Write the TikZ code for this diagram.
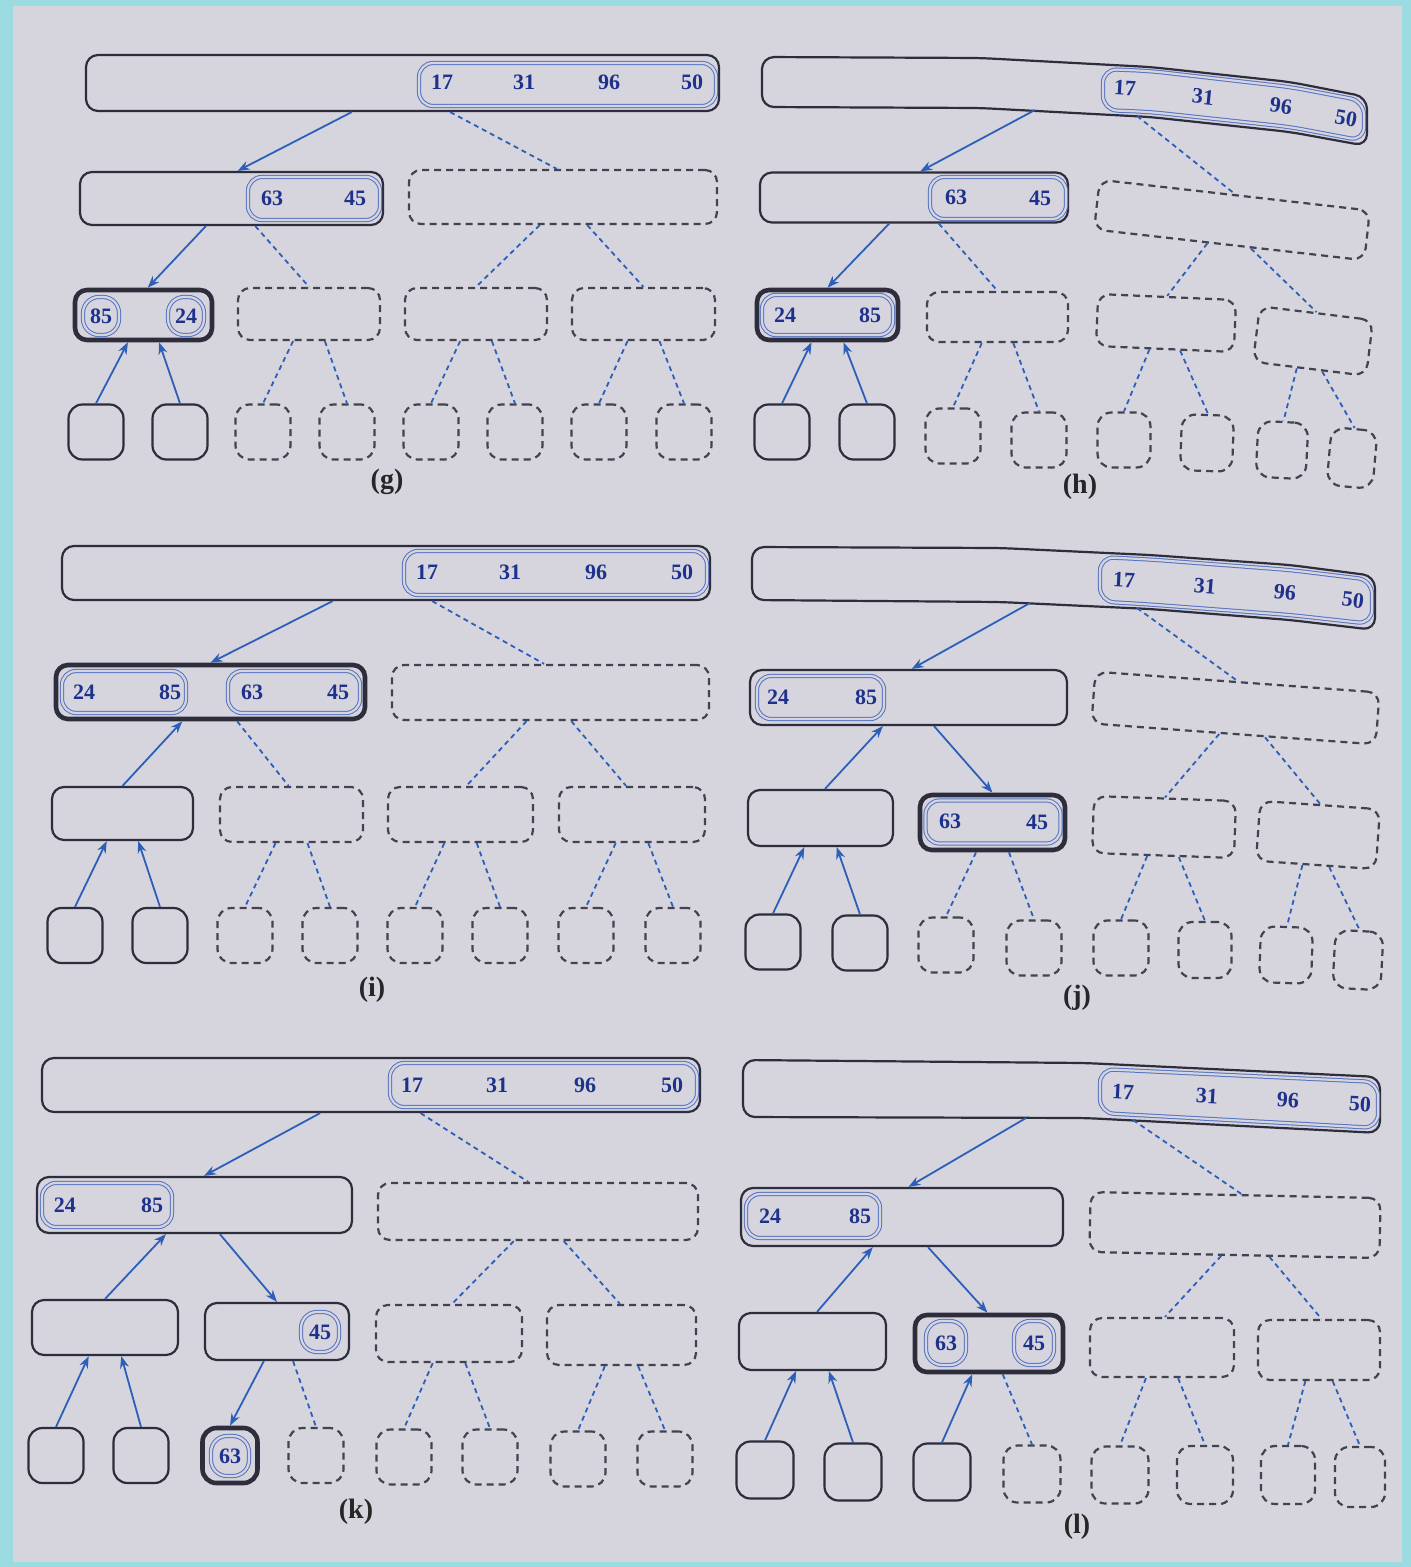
\documentclass[tikz,border=0pt]{standalone}
\usepackage{fontspec}
\setmainfont{Liberation Serif}
\usetikzlibrary{calc,arrows.meta}
\definecolor{bgc}{RGB}{214,213,222}
\definecolor{cyanc}{RGB}{156,219,224}
\definecolor{linec}{RGB}{45,45,60}
\definecolor{edgec}{RGB}{45,95,185}
\definecolor{innerc}{RGB}{85,115,195}
\definecolor{numc}{RGB}{30,50,140}
\newcommand{\tedge}[5]{\draw[#1] ($(#2.south west)!#3!(#2.south east)$) -- ($(#4.north west)!#5!(#4.north east)$);}
\newcommand{\cedge}[4]{\draw[#1] (#2) -- ($(#3.north west)!#4!(#3.north east)$);}
\begin{document}
\begin{tikzpicture}[x=0.5pt,y=-0.5pt,
  sz/.style 2 args={minimum width=#1*0.5pt, minimum height=#2*0.5pt},
  basebox/.style={rectangle, inner sep=0pt, rounded corners=6pt},
  sbox/.style={basebox, draw=linec, line width=1.1pt},
  tbox/.style={basebox, draw=linec, line width=2.3pt},
  dbox/.style={basebox, draw=linec!90, line width=1.1pt, dash pattern=on 3.5pt off 2.5pt},
  leaf/.style={sz={55}{55}, rounded corners=7pt},
  ibox/.style={rectangle, inner sep=0pt, rounded corners=7pt, draw=innerc, line width=0.5pt, double=bgc, double distance=1.1pt},
  sline/.style={draw=linec, line width=1.1pt, rounded corners=6pt},
  ipath/.style={draw=innerc, line width=0.5pt, double=bgc, double distance=1.1pt, rounded corners=7pt},
  num/.style={inner sep=0pt, text=numc, font=\bfseries\fontsize{11}{11}\selectfont},
  lab/.style={inner sep=0pt, text=black!85, font=\bfseries\fontsize{14}{14}\selectfont},
  arrdown/.style={draw=edgec, line width=0.9pt, -{Stealth[length=6pt,width=4.5pt]}},
  arrup/.style={draw=edgec, line width=0.9pt, {Stealth[length=6pt,width=4.5pt]}-},
  dedge/.style={draw=edgec, line width=0.9pt, dash pattern=on 2.5pt off 2pt},
]
\useasboundingbox (0,0) rectangle (1411,1567);
\fill[cyanc] (0,0) rectangle (1411,1567);
\fill[bgc] (13,6) rectangle (1402,1562);

%%%%%%%%%%%%%%%% (g)
\node[sbox, sz={633}{56}] (gR) at (402.5,83) {};
\node[ibox, sz={297}{43}] (gRi) at (567.5,84.5) {};
\node[num] (g17) at (442,82) {17};
\node[num] (g31) at (524,82) {31};
\node[num] (g96) at (609,82) {96};
\node[num] (g50) at (692,82) {50};
\node[sbox, sz={303}{53}] (gA) at (231.5,198.5) {};
\node[ibox, sz={132}{43}] (gAi) at (314,198.5) {};
\node[num] (g63) at (272,198) {63};
\node[num] (g45) at (355,198) {45};
\node[dbox, sz={308}{54}] (gB) at (563,197) {};
\node[tbox, sz={137}{50}] (gC1) at (143.5,315) {};
\node[ibox, sz={36}{38}, rounded corners=8pt] (gC1a) at (101,316) {};
\node[num] (g85) at (101,316) {85};
\node[ibox, sz={36}{38}, rounded corners=8pt] (gC1b) at (186,316) {};
\node[num] (g24) at (186,316) {24};
\node[dbox, sz={142}{52}] (gC2) at (309,314) {};
\node[dbox, sz={142}{52}] (gC3) at (476,314) {};
\node[dbox, sz={143}{52}] (gC4) at (643.5,314) {};
\node[sbox, leaf] (gL1) at (96,432) {};
\node[sbox, leaf] (gL2) at (180,432) {};
\node[dbox, leaf] (gL3) at (263,432) {};
\node[dbox, leaf] (gL4) at (347,432) {};
\node[dbox, leaf] (gL5) at (431,432) {};
\node[dbox, leaf] (gL6) at (515,432) {};
\node[dbox, leaf] (gL7) at (599,432) {};
\node[dbox, leaf] (gL8) at (684,432) {};
\node[lab] (gLab) at (387,482) {(g)};
\tedge{arrdown}{gR}{0.42}{gA}{0.52}
\tedge{dedge}{gR}{0.575}{gB}{0.48}
\tedge{arrdown}{gA}{0.416}{gC1}{0.53}
\tedge{dedge}{gA}{0.578}{gC2}{0.5}
\tedge{dedge}{gB}{0.425}{gC3}{0.5}
\tedge{dedge}{gB}{0.578}{gC4}{0.5}
\tedge{arrup}{gC1}{0.39}{gL1}{0.5}
\tedge{arrup}{gC1}{0.61}{gL2}{0.5}
\tedge{dedge}{gC2}{0.39}{gL3}{0.5}
\tedge{dedge}{gC2}{0.61}{gL4}{0.5}
\tedge{dedge}{gC3}{0.39}{gL5}{0.5}
\tedge{dedge}{gC3}{0.61}{gL6}{0.5}
\tedge{dedge}{gC4}{0.39}{gL7}{0.5}
\tedge{dedge}{gC4}{0.61}{gL8}{0.5}

%%%%%%%%%%%%%%%% (h)
\draw[sline] (762,57) -- (980,58) -- (1150,67) -- (1290,82) -- (1367,97) -- (1367,146) -- (1290,132) -- (1150,117) -- (980,108) -- (762,107) -- cycle;
\draw[ipath] (1103,69) -- (1150,71) -- (1290,87) -- (1364,101) -- (1364,141) -- (1290,127) -- (1150,112) -- (1103,110) -- cycle;
\node[num, rotate=-3] (h17) at (1125,88) {17};
\node[num, rotate=-6] (h31) at (1203,97) {31};
\node[num, rotate=-7] (h96) at (1281,106) {96};
\node[num, rotate=-10] (h50) at (1346,118) {50};
\coordinate (hR1) at (1035,110);
\coordinate (hR2) at (1137,116);
\node[sbox, sz={308}{50}] (hA) at (914,197.5) {};
\node[ibox, sz={136}{42}] (hAi) at (998,198) {};
\node[num] (h63) at (956,197) {63};
\node[num] (h45) at (1040,198) {45};
\node[dbox, sz={272}{50}, rotate=-6.5] (hB) at (1232,220) {};
\node[tbox, sz={141}{50}] (hC1) at (827.5,315) {};
\node[ibox, sz={131}{40}] (hC1i) at (827.5,315) {};
\node[num] (h24) at (785,315) {24};
\node[num] (h85) at (870,315) {85};
\node[dbox, sz={141}{50}] (hC2) at (997.5,317) {};
\node[dbox, sz={138}{52}, rotate=-2.5] (hC3) at (1166,323) {};
\node[dbox, sz={114}{56}, rotate=-7] (hC4) at (1313,341) {};
\node[sbox, leaf] (hL1) at (782,432) {};
\node[sbox, leaf] (hL2) at (867,432) {};
\node[dbox, leaf] (hL3) at (953,436) {};
\node[dbox, leaf] (hL4) at (1039,440) {};
\node[dbox, leaf, sz={53}{55}] (hL5) at (1124,440) {};
\node[dbox, leaf, sz={52}{56}, rotate=-2] (hL6) at (1207,443) {};
\node[dbox, leaf, sz={50}{56}, rotate=-3] (hL7) at (1282,450) {};
\node[dbox, leaf, sz={46}{58}, rotate=-5] (hL8) at (1352,458) {};
\node[lab] (hLab) at (1080,487) {(h)};
\cedge{arrdown}{hR1}{hA}{0.52}
\cedge{dedge}{hR2}{hB}{0.5}
\tedge{arrdown}{hA}{0.42}{hC1}{0.5}
\tedge{dedge}{hA}{0.58}{hC2}{0.5}
\tedge{dedge}{hB}{0.42}{hC3}{0.5}
\tedge{dedge}{hB}{0.58}{hC4}{0.5}
\tedge{arrup}{hC1}{0.39}{hL1}{0.5}
\tedge{arrup}{hC1}{0.61}{hL2}{0.5}
\tedge{dedge}{hC2}{0.39}{hL3}{0.5}
\tedge{dedge}{hC2}{0.61}{hL4}{0.5}
\tedge{dedge}{hC3}{0.39}{hL5}{0.5}
\tedge{dedge}{hC3}{0.61}{hL6}{0.5}
\tedge{dedge}{hC4}{0.39}{hL7}{0.5}
\tedge{dedge}{hC4}{0.61}{hL8}{0.5}

%%%%%%%%%%%%%%%% (i)
\node[sbox, sz={648}{54}] (iR) at (386,573) {};
\node[ibox, sz={303}{44}] (iRi) at (555.5,573) {};
\node[num] (i17) at (427,572) {17};
\node[num] (i31) at (510,572) {31};
\node[num] (i96) at (596,572) {96};
\node[num] (i50) at (682,572) {50};
\node[tbox, sz={309}{54}] (iA) at (210.5,692) {};
\node[ibox, sz={124}{42}] (iAi) at (124,692) {};
\node[num] (i24) at (84,692) {24};
\node[num] (i85) at (170,692) {85};
\node[ibox, sz={132}{42}] (iAj) at (294,692) {};
\node[num] (i63) at (252,692) {63};
\node[num] (i45) at (338,692) {45};
\node[dbox, sz={317}{55}] (iB) at (550.5,692.5) {};
\node[sbox, sz={141}{53}] (iC1) at (122.5,813.5) {};
\node[dbox, sz={143}{55}] (iC2) at (291.5,814.5) {};
\node[dbox, sz={145}{55}] (iC3) at (460.5,814.5) {};
\node[dbox, sz={146}{55}] (iC4) at (632,814.5) {};
\node[sbox, leaf] (iL1) at (75,935.5) {};
\node[sbox, leaf] (iL2) at (160,935.5) {};
\node[dbox, leaf] (iL3) at (245,935.5) {};
\node[dbox, leaf] (iL4) at (330,935.5) {};
\node[dbox, leaf] (iL5) at (415,935.5) {};
\node[dbox, leaf] (iL6) at (500,935.5) {};
\node[dbox, leaf] (iL7) at (586,935.5) {};
\node[dbox, leaf] (iL8) at (673,935.5) {};
\node[lab] (iLab) at (372,990) {(i)};
\tedge{arrdown}{iR}{0.418}{iA}{0.5}
\tedge{dedge}{iR}{0.571}{iB}{0.48}
\tedge{arrup}{iA}{0.41}{iC1}{0.5}
\tedge{dedge}{iA}{0.585}{iC2}{0.48}
\tedge{dedge}{iB}{0.425}{iC3}{0.54}
\tedge{dedge}{iB}{0.565}{iC4}{0.46}
\tedge{arrup}{iC1}{0.39}{iL1}{0.5}
\tedge{arrup}{iC1}{0.61}{iL2}{0.5}
\tedge{dedge}{iC2}{0.39}{iL3}{0.5}
\tedge{dedge}{iC2}{0.61}{iL4}{0.5}
\tedge{dedge}{iC3}{0.39}{iL5}{0.5}
\tedge{dedge}{iC3}{0.61}{iL6}{0.5}
\tedge{dedge}{iC4}{0.39}{iL7}{0.5}
\tedge{dedge}{iC4}{0.61}{iL8}{0.5}

%%%%%%%%%%%%%%%% (j)
\draw[sline] (752,547) -- (1000,548) -- (1150,555) -- (1290,565) -- (1375,576) -- (1375,630) -- (1290,620) -- (1150,609) -- (1000,602) -- (752,600) -- cycle;
\draw[ipath] (1100,557) -- (1150,559.5) -- (1290,570) -- (1372,580) -- (1372,624) -- (1290,615) -- (1150,604.5) -- (1100,601.5) -- cycle;
\node[num, rotate=-3] (j17) at (1124,580) {17};
\node[num, rotate=-4.5] (j31) at (1205,586) {31};
\node[num, rotate=-5] (j96) at (1285,592) {96};
\node[num, rotate=-7] (j50) at (1353,600) {50};
\coordinate (jR1) at (1030,603);
\coordinate (jR2) at (1137,608);
\node[sbox, sz={317}{55}] (jA) at (908.5,697.5) {};
\node[ibox, sz={127}{43}] (jAi) at (820.5,697.5) {};
\node[num] (j24) at (778,697) {24};
\node[num] (j85) at (866,697) {85};
\node[dbox, sz={285}{52}, rotate=-4.2] (jB) at (1235.5,708) {};
\node[sbox, sz={145}{56}] (jC1) at (820.5,818) {};
\node[tbox, sz={145}{55}] (jC2) at (992.5,822.5) {};
\node[ibox, sz={135}{43}] (jC2i) at (993,822) {};
\node[num] (j63) at (950,821) {63};
\node[num] (j45) at (1037,822) {45};
\node[dbox, sz={142}{57}, rotate=-2] (jC3) at (1164,827) {};
\node[dbox, sz={120}{60}, rotate=-4] (jC4) at (1318,835) {};
\node[sbox, leaf] (jL1) at (773,942) {};
\node[sbox, leaf] (jL2) at (860,943) {};
\node[dbox, leaf] (jL3) at (946,945) {};
\node[dbox, leaf] (jL4) at (1034,948) {};
\node[dbox, leaf] (jL5) at (1121,948) {};
\node[dbox, leaf, sz={53}{56}] (jL6) at (1205,950) {};
\node[dbox, leaf, sz={52}{56}, rotate=-2] (jL7) at (1286,955) {};
\node[dbox, leaf, sz={48}{58}, rotate=-3] (jL8) at (1358,960) {};
\node[lab] (jLab) at (1077,998) {(j)};
\cedge{arrdown}{jR1}{jA}{0.51}
\cedge{dedge}{jR2}{jB}{0.5}
\tedge{arrup}{jA}{0.42}{jC1}{0.53}
\tedge{arrdown}{jA}{0.58}{jC2}{0.5}
\tedge{dedge}{jB}{0.45}{jC3}{0.5}
\tedge{dedge}{jB}{0.61}{jC4}{0.5}
\tedge{arrup}{jC1}{0.39}{jL1}{0.5}
\tedge{arrup}{jC1}{0.61}{jL2}{0.5}
\tedge{dedge}{jC2}{0.39}{jL3}{0.5}
\tedge{dedge}{jC2}{0.61}{jL4}{0.5}
\tedge{dedge}{jC3}{0.39}{jL5}{0.5}
\tedge{dedge}{jC3}{0.61}{jL6}{0.5}
\tedge{dedge}{jC4}{0.39}{jL7}{0.5}
\tedge{dedge}{jC4}{0.61}{jL8}{0.5}

%%%%%%%%%%%%%%%% (k)
\node[sbox, sz={658}{54}] (kR) at (371,1085) {};
\node[ibox, sz={307}{44}] (kRi) at (543.5,1085) {};
\node[num] (k17) at (412,1085) {17};
\node[num] (k31) at (497,1085) {31};
\node[num] (k96) at (585,1085) {96};
\node[num] (k50) at (672,1085) {50};
\node[sbox, sz={315}{56}] (kA) at (194.5,1205) {};
\node[ibox, sz={130}{44}] (kAi) at (107,1205) {};
\node[num] (k24) at (65,1205) {24};
\node[num] (k85) at (152,1205) {85};
\node[dbox, sz={320}{57}] (kB) at (538,1211.5) {};
\node[sbox, sz={146}{55}] (kC1) at (105,1327.5) {};
\node[sbox, sz={144}{57}] (kC2) at (277,1331.5) {};
\node[ibox, sz={38}{40}, rounded corners=8pt] (kC2i) at (320,1332) {};
\node[num] (k45) at (320,1332) {45};
\node[dbox, sz={146}{57}] (kC3) at (449,1333.5) {};
\node[dbox, sz={149}{60}] (kC4) at (621.5,1335) {};
\node[sbox, leaf] (kL1) at (56,1455.5) {};
\node[sbox, leaf] (kL2) at (141,1455.5) {};
\node[tbox, leaf] (kL3) at (230,1455.5) {};
\node[ibox, sz={38}{40}, rounded corners=8pt] (kL3i) at (230,1456) {};
\node[num] (k63) at (230,1456) {63};
\node[dbox, leaf] (kL4) at (316,1455.5) {};
\node[dbox, leaf] (kL5) at (404,1457) {};
\node[dbox, leaf] (kL6) at (490,1457) {};
\node[dbox, leaf] (kL7) at (578,1459) {};
\node[dbox, leaf] (kL8) at (665,1459) {};
\node[lab] (kLab) at (356,1512) {(k)};
\tedge{arrdown}{kR}{0.423}{kA}{0.53}
\tedge{dedge}{kR}{0.575}{kB}{0.47}
\tedge{arrup}{kA}{0.41}{kC1}{0.5}
\tedge{arrdown}{kA}{0.58}{kC2}{0.5}
\tedge{dedge}{kB}{0.425}{kC3}{0.52}
\tedge{dedge}{kB}{0.58}{kC4}{0.49}
\tedge{arrup}{kC1}{0.39}{kL1}{0.5}
\tedge{arrup}{kC1}{0.61}{kL2}{0.5}
\tedge{arrdown}{kC2}{0.41}{kL3}{0.5}
\tedge{dedge}{kC2}{0.61}{kL4}{0.5}
\tedge{dedge}{kC3}{0.39}{kL5}{0.5}
\tedge{dedge}{kC3}{0.61}{kL6}{0.5}
\tedge{dedge}{kC4}{0.39}{kL7}{0.5}
\tedge{dedge}{kC4}{0.61}{kL8}{0.5}

%%%%%%%%%%%%%%%% (l)
\draw[sline] (743,1060) -- (1085,1063) -- (1380,1077) -- (1380,1133) -- (1085,1118) -- (743,1117) -- cycle;
\draw[ipath] (1100,1069) -- (1378,1082) -- (1378,1128) -- (1100,1113) -- cycle;
\node[num, rotate=-2.9] (l17) at (1123,1092) {17};
\node[num, rotate=-2.9] (l31) at (1207,1096) {31};
\node[num, rotate=-2.9] (l96) at (1288,1100) {96};
\node[num, rotate=-2.9] (l50) at (1360,1104) {50};
\coordinate (lR1) at (1026,1118);
\coordinate (lR2) at (1133,1120);
\node[sbox, sz={322}{58}] (lA) at (902,1217) {};
\node[ibox, sz={134}{44}] (lAi) at (813,1216) {};
\node[num] (l24) at (770,1216) {24};
\node[num] (l85) at (860,1216) {85};
\node[dbox, sz={290}{60}, rotate=-1.2] (lB) at (1235,1225) {};
\node[sbox, sz={147}{57}] (lC1) at (812.5,1341.5) {};
\node[tbox, sz={148}{57}] (lC2) at (989,1343.5) {};
\node[ibox, sz={40}{44}, rounded corners=8pt] (lC2a) at (946,1343) {};
\node[num] (l63) at (946,1343) {63};
\node[ibox, sz={40}{44}, rounded corners=8pt] (lC2b) at (1034,1343) {};
\node[num] (l45) at (1034,1343) {45};
\node[dbox, sz={144}{59}] (lC3) at (1162,1347.5) {};
\node[dbox, sz={122}{60}] (lC4) at (1319,1350) {};
\node[sbox, leaf, sz={57}{57}] (lL1) at (765,1470) {};
\node[sbox, leaf, sz={57}{57}] (lL2) at (853,1472) {};
\node[sbox, leaf, sz={57}{57}] (lL3) at (942,1472) {};
\node[dbox, leaf, sz={57}{57}] (lL4) at (1032,1474) {};
\node[dbox, leaf, sz={57}{57}] (lL5) at (1120,1475) {};
\node[dbox, leaf, sz={56}{58}] (lL6) at (1205,1475) {};
\node[dbox, leaf, sz={54}{58}] (lL7) at (1288,1475) {};
\node[dbox, leaf, sz={50}{60}] (lL8) at (1360,1477) {};
\node[lab] (lLab) at (1077,1527) {(l)};
\cedge{arrdown}{lR1}{lA}{0.52}
\cedge{dedge}{lR2}{lB}{0.52}
\tedge{arrup}{lA}{0.41}{lC1}{0.53}
\tedge{arrdown}{lA}{0.58}{lC2}{0.49}
\tedge{dedge}{lB}{0.455}{lC3}{0.52}
\tedge{dedge}{lB}{0.62}{lC4}{0.52}
\tedge{arrup}{lC1}{0.39}{lL1}{0.5}
\tedge{arrup}{lC1}{0.61}{lL2}{0.5}
\tedge{arrup}{lC2}{0.39}{lL3}{0.5}
\tedge{dedge}{lC2}{0.59}{lL4}{0.5}
\tedge{dedge}{lC3}{0.39}{lL5}{0.5}
\tedge{dedge}{lC3}{0.61}{lL6}{0.5}
\tedge{dedge}{lC4}{0.39}{lL7}{0.5}
\tedge{dedge}{lC4}{0.61}{lL8}{0.5}
\end{tikzpicture}
\end{document}
